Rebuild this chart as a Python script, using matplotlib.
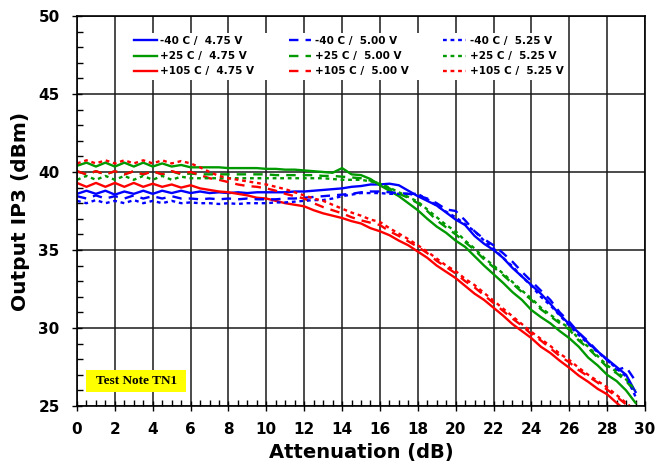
import numpy as np
import matplotlib
matplotlib.use("Agg")
import matplotlib.pyplot as plt
from matplotlib.ticker import MultipleLocator
from matplotlib.patches import Rectangle

atten = [i * 0.5 for i in range(60)]

bs = [38.6, 38.8, 38.6, 38.8, 38.55, 38.75, 38.6, 38.8, 38.6, 38.8, 38.65, 38.8,
      38.65, 38.75, 38.65, 38.7, 38.65, 38.7, 38.65, 38.7, 38.7, 38.7, 38.7, 38.75,
      38.75, 38.8, 38.85, 38.9, 38.95, 39.05, 39.1, 39.2, 39.2, 39.25, 39.15, 38.8,
      38.45, 38.15, 37.85, 37.4, 36.95, 36.6, 35.9, 35.4, 35.0, 34.5, 33.85, 33.3,
      32.75, 32.2, 31.55, 30.85, 30.25, 29.7, 29.05, 28.5, 28.0, 27.5, 27.0, 25.9]
bd = [38.45, 38.3, 38.5, 38.3, 38.45, 38.3, 38.5, 38.3, 38.45, 38.3, 38.45, 38.3,
      38.3, 38.25, 38.3, 38.25, 38.3, 38.25, 38.3, 38.25, 38.25, 38.25, 38.3, 38.3,
      38.35, 38.4, 38.45, 38.5, 38.55, 38.6, 38.7, 38.75, 38.75, 38.7, 38.65, 38.6,
      38.5, 38.3, 38.0, 37.6, 37.5, 36.9, 36.2, 35.7, 35.3, 34.8, 34.25, 33.6,
      33.0, 32.4, 31.8, 31.0, 30.4, 29.7, 29.15, 28.5, 27.95, 27.3, 27.5, 26.6]
bt = [38.15, 38.0, 38.2, 38.0, 38.15, 38.0, 38.2, 38.0, 38.15, 38.0, 38.15, 38.0,
      38.05, 38.0, 38.0, 37.95, 38.0, 37.95, 38.0, 38.0, 38.0, 38.05, 38.05, 38.1,
      38.15, 38.2, 38.2, 38.3, 38.45, 38.55, 38.65, 38.65, 38.65, 38.6, 38.6, 38.6,
      38.6, 38.25, 37.85, 37.45, 37.1, 36.65, 36.2, 35.6, 35.1, 34.5, 33.95, 33.3,
      32.7, 32.0, 31.45, 30.8, 30.15, 29.55, 29.0, 28.45, 27.95, 27.4, 26.9, 25.6]
gs = [40.4, 40.6, 40.35, 40.6, 40.35, 40.6, 40.35, 40.6, 40.35, 40.55, 40.35, 40.45,
      40.3, 40.3, 40.3, 40.3, 40.25, 40.25, 40.25, 40.25, 40.2, 40.2, 40.15, 40.15,
      40.1, 40.05, 40.0, 39.95, 40.25, 39.85, 39.8, 39.55, 39.15, 38.8, 38.45, 38.0,
      37.55, 37.0, 36.5, 36.1, 35.6, 35.2, 34.6, 34.0, 33.45, 32.9, 32.3, 31.8,
      31.15, 30.7, 30.3, 29.8, 29.35, 28.8, 28.1, 27.6, 27.0, 26.6, 26.0, 25.2]
gd = [40.05, 39.85, 40.05, 39.85, 40.05, 39.85, 40.05, 39.85, 40.05, 39.85, 40.05, 39.85,
      39.9, 39.85, 39.85, 39.85, 39.85, 39.85, 39.85, 39.85, 39.85, 39.8, 39.8, 39.8,
      39.8, 39.8, 39.75, 39.75, 39.7, 39.65, 39.6, 39.45, 39.25, 38.95, 38.6, 38.35,
      38.0, 37.5, 36.9, 36.45, 36.0, 35.5, 35.0, 34.4, 33.9, 33.4, 32.85, 32.3,
      31.8, 31.2, 30.75, 30.3, 29.9, 29.2, 28.7, 28.1, 27.5, 27.1, 26.6, 25.9]
gt = [39.5, 39.75, 39.5, 39.75, 39.5, 39.75, 39.5, 39.75, 39.5, 39.75, 39.5, 39.7,
      39.6, 39.6, 39.6, 39.6, 39.6, 39.6, 39.6, 39.6, 39.6, 39.6, 39.6, 39.6,
      39.6, 39.6, 39.6, 39.55, 39.5, 39.5, 39.5, 39.4, 39.25, 39.0, 38.7, 38.4,
      38.1, 37.6, 37.1, 36.6, 36.2, 35.6, 35.1, 34.5, 34.0, 33.5, 32.95, 32.4,
      31.9, 31.3, 30.85, 30.4, 30.0, 29.3, 28.8, 28.2, 27.6, 27.2, 26.7, 26.0]
rs = [39.3, 39.05, 39.3, 39.05, 39.3, 39.05, 39.3, 39.05, 39.25, 39.05, 39.2, 39.0,
      39.15, 38.95, 38.85, 38.75, 38.7, 38.6, 38.5, 38.35, 38.3, 38.15, 38.0, 37.9,
      37.8, 37.55, 37.35, 37.2, 37.05, 36.85, 36.7, 36.4, 36.2, 35.95, 35.6, 35.3,
      34.9, 34.5, 34.0, 33.6, 33.2, 32.7, 32.2, 31.8, 31.3, 30.8, 30.25, 29.8,
      29.35, 28.8, 28.4, 27.9, 27.45, 26.95, 26.55, 26.1, 25.75, 25.2, 24.7, 24.2]
rd = [40.05, 39.85, 40.05, 39.85, 40.05, 39.85, 40.05, 39.85, 40.05, 39.85, 40.05, 39.9,
      40.0, 39.8, 39.6, 39.5, 39.35, 39.2, 39.1, 39.05, 38.95, 38.8, 38.6, 38.45,
      38.3, 38.0, 37.75, 37.55, 37.35, 37.1, 36.9, 36.75, 36.6, 36.2, 35.9, 35.55,
      35.2, 34.8, 34.3, 33.9, 33.5, 33.0, 32.6, 32.1, 31.6, 31.1, 30.6, 30.15,
      29.6, 29.2, 28.7, 28.2, 27.8, 27.3, 26.9, 26.5, 26.05, 25.6, 25.1, 24.6]
rt = [40.55, 40.75, 40.55, 40.75, 40.55, 40.75, 40.55, 40.75, 40.55, 40.75, 40.55, 40.7,
      40.55, 40.3, 40.0, 39.75, 39.6, 39.5, 39.4, 39.3, 39.2, 39.05, 38.9, 38.7,
      38.5, 38.3, 38.15, 37.9, 37.65, 37.4, 37.2, 36.95, 36.8, 36.4, 36.05, 35.7,
      35.3, 34.9, 34.45, 34.0, 33.65, 33.15, 32.75, 32.25, 31.75, 31.25, 30.75, 30.25,
      29.75, 29.3, 28.85, 28.35, 27.95, 27.45, 27.0, 26.6, 26.2, 25.7, 25.2, 24.7]

labels = ["-40 C /  4.75 V", "+25 C /  4.75 V", "+105 C /  4.75 V",
          "-40 C /  5.00 V", "+25 C /  5.00 V", "+105 C /  5.00 V",
          "-40 C /  5.25 V", "+25 C /  5.25 V", "+105 C /  5.25 V"]
series = [bs, gs, rs, bd, gd, rd, bt, gt, rt]
colors = ["#0000ff", "#009900", "#ff0000"] * 3
styles = ["-"] * 3 + [(0, (4, 3))] * 3 + [(0, (1.6, 1.6))] * 3

fig = plt.figure(figsize=(6.57, 4.65), dpi=100)
ax = fig.add_axes([77/657, 1-406/465, (645-77)/657, (406-16)/465])

for y, c, ls, lab in zip(series, colors, styles, labels):
    ax.plot(atten, y, color=c, linestyle=ls, lw=1.7, label=lab,
            dash_capstyle="butt", zorder=3)

ax.set_xlim(0, 30)
ax.set_ylim(25, 50)
ax.xaxis.set_major_locator(MultipleLocator(2))
ax.xaxis.set_minor_locator(MultipleLocator(0.5))
ax.yaxis.set_major_locator(MultipleLocator(5))
ax.yaxis.set_minor_locator(MultipleLocator(1))
ax.grid(True, which="major", color="#1a1a1a", lw=1.1, zorder=1)
ax.tick_params(which="major", direction="inout", length=7, width=1, labelsize=11)
ax.tick_params(axis="y", which="major", pad=9)
ax.tick_params(axis="x", which="major", pad=8)
ax.tick_params(which="minor", direction="in", length=4, width=1)
for lab in ax.get_xticklabels() + ax.get_yticklabels():
    lab.set_fontweight("bold")
for s in ax.spines.values():
    s.set_linewidth(1.2)
    s.set_zorder(5)

ax.set_xlabel("Attenuation (dB)", fontsize=14, fontweight="bold", labelpad=4)
ax.set_ylabel("Output IP3 (dBm)", fontsize=14.5, fontweight="bold", labelpad=6)

leg = ax.legend(ncol=3, loc="upper left", bbox_to_anchor=(0.085, 0.97),
                frameon=True, fancybox=False, edgecolor="none", facecolor="white",
                framealpha=1, prop={"weight": "bold", "size": 7.5},
                handlelength=2.2, handletextpad=0.35, columnspacing=3.3,
                labelspacing=0.5, borderpad=0.3)
leg.set_zorder(6)

ax.add_patch(Rectangle((0.475, 25.9), 5.3, 1.4, facecolor="#ffff00",
                       edgecolor="none", zorder=7))
ax.text(3.12, 26.6, "Test Note TN1", fontsize=9.5, fontweight="bold",
        family="Liberation Serif", va="center", ha="center", zorder=8)

fig.savefig("out.png", dpi=100)
